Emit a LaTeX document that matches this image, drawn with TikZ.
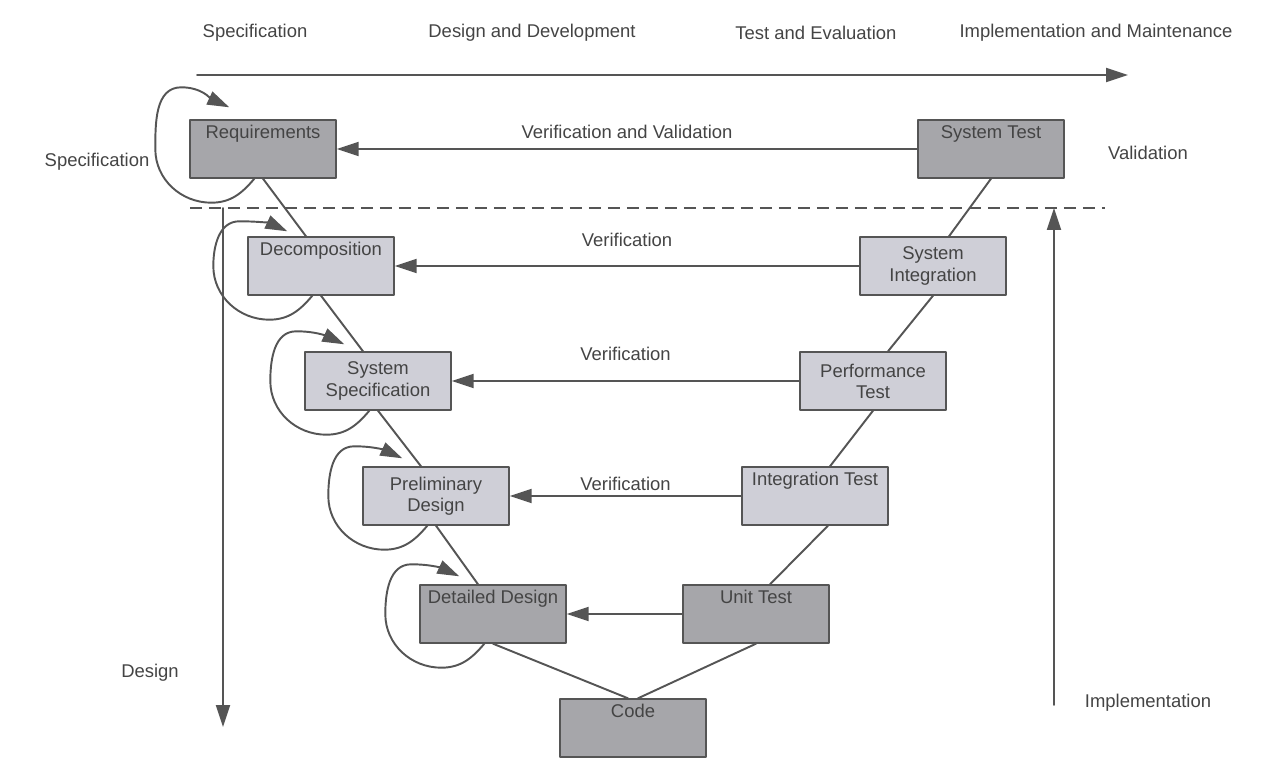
\documentclass[tikz,border=0pt]{standalone}
\usepackage{fontspec}
\setmainfont{Liberation Sans}
\usetikzlibrary{arrows.meta,positioning,calc}
\definecolor{vline}{HTML}{555555}
\definecolor{vtxt}{HTML}{444444}
\definecolor{vdarkfill}{HTML}{A6A6AA}
\definecolor{vlightfill}{HTML}{CFCFD7}
\tikzset{
  vbox/.style={draw=vline,line width=0.8pt,minimum width=2.92cm,minimum height=1.16cm,
               inner sep=0.08cm,align=center,font=\fontsize{10.5}{12}\selectfont,text=vtxt},
  vdark/.style={vbox,fill=vdarkfill},
  vlight/.style={vbox,fill=vlightfill},
  toptext/.style={text height=0.28cm,text depth=0.72cm},
  lbl/.style={font=\fontsize{10.5}{12}\selectfont,text=vtxt,inner sep=1pt},
  con/.style={draw=vline,line width=1.1pt},
  arr/.style={con,-{Triangle[length=0.44cm,width=0.28cm]}},
  every picture/.style={line cap=round,line join=round}}

\begin{document}
\begin{tikzpicture}[x=0.02cm,y=-0.02cm]
  \useasboundingbox (0,0) rectangle (1262,767);
  % phases along the top
  \node[lbl] (ph1) at (255,33) {Specification};
  \node[lbl] (ph2) at (532,33) {Design and Development};
  \node[lbl] (ph3) at (816,33) {Test and Evaluation};
  \node[lbl] (ph4) at (1096,33) {Implementation and Maintenance};
  \coordinate (t0) at (197,75); \coordinate (t1) at (1128,75);
  \draw[arr] (t0) -- (t1);
  % left leg
  \node[vdark,toptext] (req) at (263,149) {Requirements};
  \node[vlight,toptext] (dec) at (321,266) {Decomposition};
  \node[vlight] (sspec) at (378,381) {System\\Specification};
  \node[vlight] (prel) at (436,496) {Preliminary\\Design};
  \node[vdark,toptext] (det) at (493,614) {Detailed Design};
  \node[vdark,toptext] (code) at (633,728) {Code};
  % right leg
  \node[vdark,toptext] (unit) at (756,614) {Unit Test};
  \node[vlight,toptext] (itest) at (815,496) {Integration Test};
  \node[vlight] (perf) at (873,381) {Performance\\Test};
  \node[vlight] (sint) at (933,266) {System\\Integration};
  \node[vdark,toptext] (stest) at (991,149) {System Test};
  % the V
  \draw[con] (req.south) -- ([xshift=-0.3cm]dec.north) (dec.south) -- ([xshift=-0.3cm]sspec.north)
    (sspec.south) -- ([xshift=-0.3cm]prel.north) (prel.south) -- ([xshift=-0.3cm]det.north)
    (det.south) -- ([xshift=-0.1cm]code.north) ([xshift=0.1cm]code.north) -- (unit.south)
    ([xshift=0.28cm]unit.north) -- ([xshift=0.26cm]itest.south) ([xshift=0.3cm]itest.north) -- (perf.south)
    ([xshift=0.3cm]perf.north) -- (sint.south) ([xshift=0.32cm]sint.north) -- (stest.south);
  % verification arrows
  \draw[arr] (stest) -- node[lbl,above=0.16cm] (vv) {Verification and Validation} (req);
  \draw[arr] (sint) -- node[lbl,above=0.34cm] (v1) {Verification} (dec);
  \draw[arr] (perf) -- node[lbl,above=0.36cm] (v2) {Verification} (sspec);
  \draw[arr] (itest) -- node[lbl,above=0.06cm] (v3) {Verification} (prel);
  \draw[arr] (unit) -- (det);
  % rework loops
  \foreach \bx/\h/\tp in {req/32/12,dec/15/5,sspec/20/7,prel/20/8,det/20/8}
    \draw[arr] ($(\bx.south west)+(65,0)$) to[out=-130,in=0] ($(\bx.south west)+(22,24)$)
      to[out=180,in=-90] ($(\bx.west)+(-34,0)$) to[out=90,in=180] ($(\bx.north west)+(-8,-\h)$)
      to[out=0,in=155] ($(\bx.north west)+(40,-\tp)$);
  % specification / design border
  \coordinate (d0) at (190,208); \coordinate (d1) at (1105,208);
  \draw[con,line cap=butt,dash pattern=on 0.24cm off 0.14cm] (d0) -- (d1);
  \coordinate (sd0) at (223,208); \coordinate (sd1) at (223,727);
  \draw[arr] (sd0) -- (sd1);
  \coordinate (iv0) at (1054,705); \coordinate (iv1) at (1054,208);
  \draw[arr] (iv0) -- (iv1);
  \node[lbl] (lspec) at (97,162) {Specification};
  \node[lbl] (ldes) at (150,673) {Design};
  \node[lbl] (lval) at (1148,153) {Validation};
  \node[lbl] (limp) at (1148,703) {Implementation};
\end{tikzpicture}
\end{document}
